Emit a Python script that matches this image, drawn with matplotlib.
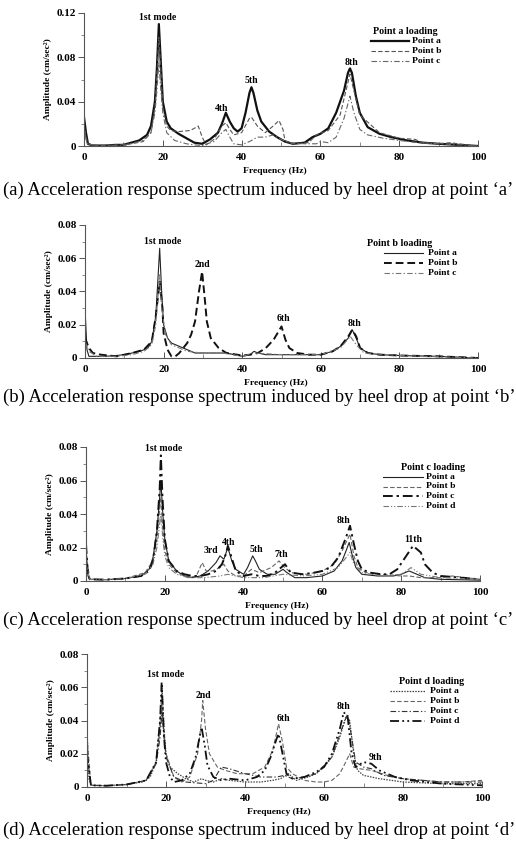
import matplotlib
matplotlib.use("Agg")
import matplotlib.pyplot as plt
from matplotlib.lines import Line2D
from matplotlib.ticker import MultipleLocator, FuncFormatter

plt.rcParams['font.family'] = ['Liberation Serif', 'DejaVu Serif']

W, H = 516, 843

# ---------------- Panel (a): Point a loading ----------------
a_pa_f = [0, 0.5, 1, 2, 5, 8, 10, 12, 14, 16, 17, 18, 18.5, 19, 19.5, 20, 21, 22, 24, 26, 28, 30, 32, 34, 35, 36, 37, 38, 39, 40, 41, 42, 42.5, 43, 44, 45, 47, 49, 51, 53, 56, 58, 60, 62, 64, 66, 67, 67.5, 68, 69, 70, 72, 75, 78, 82, 86, 90, 95, 100]
a_pa_v = [0.026, 0.012, 0.002, 0.0005, 0.0003, 0.001, 0.001, 0.003, 0.005, 0.01, 0.018, 0.04, 0.07, 0.11, 0.075, 0.04, 0.022, 0.016, 0.011, 0.007, 0.003, 0.002, 0.006, 0.012, 0.02, 0.03, 0.022, 0.016, 0.013, 0.016, 0.03, 0.048, 0.053, 0.048, 0.032, 0.022, 0.013, 0.008, 0.004, 0.002, 0.003, 0.008, 0.011, 0.016, 0.03, 0.05, 0.066, 0.07, 0.066, 0.045, 0.03, 0.017, 0.011, 0.008, 0.005, 0.003, 0.002, 0.001, 0.0]
a_pb_f = [0, 0.5, 1, 3, 8, 12, 15, 17, 18, 18.5, 19, 19.5, 20, 21, 22, 24, 27, 29, 30, 31, 33, 35, 36, 37, 38, 40, 42, 42.5, 44, 46, 48, 49.5, 50.5, 51, 53, 57, 59, 62, 65, 66.5, 67.5, 68.5, 70, 75, 80, 84, 86, 90, 93, 95, 100]
a_pb_v = [0.02, 0.008, 0.002, 0.0005, 0.0008, 0.002, 0.004, 0.012, 0.035, 0.065, 0.098, 0.07, 0.035, 0.018, 0.014, 0.013, 0.014, 0.018, 0.008, 0.001, 0.006, 0.018, 0.021, 0.015, 0.01, 0.012, 0.025, 0.026, 0.018, 0.012, 0.018, 0.023, 0.015, 0.005, 0.002, 0.003, 0.01, 0.014, 0.028, 0.05, 0.065, 0.05, 0.028, 0.012, 0.007, 0.006, 0.003, 0.002, 0.003, 0.002, 0.0]
a_pc_f = [0, 0.5, 1, 10, 15, 17, 18, 18.5, 19, 19.5, 20, 21, 23, 26, 28, 30, 33, 35, 36, 37, 38, 40, 42, 44, 46, 48, 50, 52, 56, 59, 60, 62, 64, 66, 67.5, 68.5, 70, 72, 76, 80, 85, 90, 100]
a_pc_v = [0.02, 0.006, 0.001, 0.0005, 0.005, 0.012, 0.03, 0.05, 0.075, 0.05, 0.03, 0.012, 0.005, 0.002, 0.001, 0.0005, 0.004, 0.012, 0.015, 0.008, 0.002, 0.001, 0.004, 0.008, 0.008, 0.01, 0.006, 0.003, 0.002, 0.002, 0.004, 0.003, 0.008, 0.025, 0.045, 0.03, 0.015, 0.01, 0.007, 0.005, 0.003, 0.002, 0.0]

# ---------------- Panel (b): Point b loading ----------------
b_pa_f = [0, 0.5, 1, 3, 5, 8, 10, 12, 14, 16, 17, 18, 18.5, 19, 19.5, 20, 21, 22, 24, 26, 28, 30, 33, 36, 38, 40, 42, 43, 44, 46, 50, 55, 60, 63, 65, 67, 68, 69, 70, 72, 75, 80, 90, 100]
b_pa_v = [0.03, 0.005, 0.001, 0.001, 0.001, 0.0015, 0.002, 0.003, 0.004, 0.006, 0.01, 0.025, 0.045, 0.066, 0.04, 0.02, 0.012, 0.009, 0.007, 0.005, 0.003, 0.003, 0.003, 0.003, 0.002, 0.001, 0.002, 0.004, 0.003, 0.002, 0.002, 0.002, 0.002, 0.004, 0.007, 0.012, 0.017, 0.012, 0.006, 0.003, 0.002, 0.0015, 0.001, 0.0]
b_pb_f = [0, 1, 2, 4, 8, 12, 15, 17, 18, 19, 19.7, 20, 21, 22, 23, 24, 25, 26, 27, 28, 29, 29.8, 30.5, 31, 32, 34, 36, 40, 42, 44, 46, 48, 49, 50, 51, 52, 54, 57, 60, 63, 65, 67, 68, 69, 70, 72, 75, 80, 90, 100]
b_pb_v = [0.012, 0.006, 0.003, 0.002, 0.001, 0.003, 0.005, 0.01, 0.025, 0.046, 0.03, 0.015, 0.005, 0.001, 0.001, 0.003, 0.006, 0.009, 0.014, 0.022, 0.04, 0.052, 0.035, 0.022, 0.012, 0.006, 0.003, 0.0015, 0.002, 0.003, 0.006, 0.011, 0.015, 0.019, 0.011, 0.006, 0.003, 0.002, 0.002, 0.004, 0.007, 0.013, 0.017, 0.013, 0.006, 0.003, 0.002, 0.0015, 0.001, 0.0]
b_pc_f = [0, 1, 3, 8, 12, 15, 17, 18, 18.5, 19, 19.5, 20.5, 22, 24, 26, 30, 35, 40, 43, 50, 60, 65, 67.5, 69, 71, 80, 100]
b_pc_v = [0.01, 0.004, 0.001, 0.001, 0.002, 0.004, 0.008, 0.02, 0.035, 0.05, 0.03, 0.014, 0.008, 0.006, 0.004, 0.003, 0.003, 0.001, 0.003, 0.002, 0.002, 0.006, 0.013, 0.008, 0.003, 0.0015, 0.0]

# ---------------- Panel (c): Point c loading ----------------
c_pa_f = [0, 0.5, 1, 5, 10, 14, 16, 17, 18, 18.7, 19, 19.5, 20, 21, 23, 25, 27, 29, 31, 33, 34, 35, 36, 37, 38, 40, 41, 42.3, 43, 44, 46, 48, 50, 51, 53, 56, 60, 63, 65, 66, 66.8, 67.5, 68.5, 70, 74, 78, 80, 82, 84, 86, 90, 100]
c_pa_v = [0.02, 0.003, 0.001, 0.0008, 0.0015, 0.003, 0.007, 0.014, 0.03, 0.05, 0.06, 0.04, 0.025, 0.012, 0.006, 0.003, 0.002, 0.003, 0.006, 0.011, 0.015, 0.013, 0.02, 0.012, 0.007, 0.004, 0.008, 0.015, 0.012, 0.007, 0.004, 0.004, 0.007, 0.005, 0.002, 0.002, 0.003, 0.006, 0.012, 0.018, 0.023, 0.016, 0.008, 0.004, 0.003, 0.003, 0.004, 0.006, 0.004, 0.002, 0.001, 0.0005]
c_pb_f = [0, 1, 5, 10, 15, 17, 18, 19, 19.5, 20, 21, 23, 26, 28, 29.5, 30.5, 32, 34, 35, 36, 38, 40, 42, 44, 47, 49, 50, 52, 56, 60, 63, 65, 67, 68, 69, 71, 75, 80, 82, 85, 90, 93, 100]
c_pb_v = [0.015, 0.001, 0.0008, 0.0015, 0.005, 0.012, 0.025, 0.05, 0.03, 0.018, 0.01, 0.005, 0.002, 0.003, 0.011, 0.006, 0.006, 0.008, 0.01, 0.006, 0.003, 0.003, 0.007, 0.005, 0.008, 0.012, 0.009, 0.005, 0.004, 0.006, 0.01, 0.018, 0.028, 0.015, 0.008, 0.005, 0.004, 0.003, 0.003, 0.002, 0.002, 0.003, 0.001]
c_pc_f = [0, 0.5, 1, 5, 10, 14, 16, 17, 18, 18.7, 19, 19.4, 20, 21, 23, 25, 27, 29, 31, 33, 34.5, 35.5, 36, 36.7, 38, 40, 42, 44, 46, 48, 50.5, 52, 55, 58, 60, 62, 64, 66, 67, 68, 69, 70, 72, 75, 77, 79, 81, 83, 85, 86, 88, 90, 95, 100]
c_pc_v = [0.022, 0.003, 0.001, 0.0008, 0.0015, 0.003, 0.006, 0.012, 0.03, 0.055, 0.075, 0.05, 0.025, 0.012, 0.006, 0.004, 0.003, 0.003, 0.004, 0.006, 0.01, 0.016, 0.021, 0.016, 0.006, 0.003, 0.004, 0.003, 0.003, 0.005, 0.01, 0.005, 0.004, 0.005, 0.006, 0.008, 0.014, 0.026, 0.033, 0.022, 0.012, 0.007, 0.005, 0.004, 0.004, 0.007, 0.014, 0.021, 0.017, 0.01, 0.005, 0.003, 0.002, 0.001]
c_pd_f = [0, 1, 5, 10, 15, 17, 18, 19, 19.5, 20, 21, 23, 26, 30, 34, 36, 40, 45, 50, 55, 60, 64, 66, 67, 68, 70, 75, 80, 82.5, 85, 90, 100]
c_pd_v = [0.01, 0.001, 0.0008, 0.0015, 0.004, 0.01, 0.02, 0.04, 0.025, 0.015, 0.008, 0.004, 0.002, 0.002, 0.003, 0.004, 0.002, 0.002, 0.004, 0.003, 0.004, 0.008, 0.014, 0.017, 0.01, 0.005, 0.003, 0.004, 0.008, 0.004, 0.002, 0.001]

# ---------------- Panel (d): Point d loading ----------------
d_pa_f = [0, 0.5, 1, 5, 10, 14, 16, 17.5, 18.5, 19, 19.5, 20, 21, 23, 25, 27, 29, 30, 32, 34, 36, 40, 44, 47, 49, 51, 53, 56, 58, 60, 62, 64, 65.5, 66.5, 67.5, 68.5, 70, 74, 80, 90, 100]
d_pa_v = [0.035, 0.005, 0.001, 0.0008, 0.0015, 0.003, 0.006, 0.015, 0.04, 0.06, 0.035, 0.02, 0.012, 0.008, 0.005, 0.003, 0.005, 0.004, 0.003, 0.005, 0.004, 0.003, 0.003, 0.004, 0.005, 0.008, 0.004, 0.006, 0.008, 0.012, 0.018, 0.03, 0.042, 0.04, 0.02, 0.01, 0.007, 0.005, 0.003, 0.002, 0.002]
d_pb_f = [0, 1, 5, 10, 15, 17.5, 18.5, 19, 19.5, 20, 22, 24, 26, 28, 29, 29.3, 30, 31, 33, 35, 38, 42, 45, 47, 48.5, 49.5, 50.5, 52, 55, 58, 60, 62, 64, 65.5, 66.5, 67.5, 69, 72, 76, 80, 85, 90, 95, 100]
d_pb_v = [0.03, 0.001, 0.0008, 0.0015, 0.004, 0.015, 0.035, 0.05, 0.03, 0.02, 0.006, 0.003, 0.006, 0.02, 0.04, 0.052, 0.035, 0.02, 0.012, 0.01, 0.008, 0.008, 0.012, 0.022, 0.038, 0.027, 0.012, 0.008, 0.004, 0.003, 0.003, 0.004, 0.008, 0.015, 0.02, 0.012, 0.011, 0.01, 0.007, 0.005, 0.004, 0.003, 0.003, 0.004]
d_pc_f = [0, 1, 5, 10, 15, 17.5, 18.5, 19, 19.5, 20, 22, 25, 30, 32, 34, 36, 40, 44, 48, 50, 52, 55, 58, 62, 64.5, 66, 67, 68, 70, 72, 75, 80, 90, 100]
d_pc_v = [0.02, 0.001, 0.0008, 0.0015, 0.004, 0.014, 0.03, 0.045, 0.03, 0.018, 0.006, 0.003, 0.002, 0.004, 0.012, 0.011, 0.008, 0.006, 0.006, 0.007, 0.005, 0.006, 0.008, 0.018, 0.035, 0.044, 0.03, 0.015, 0.012, 0.011, 0.007, 0.005, 0.003, 0.003]
d_pd_f = [0, 1, 5, 10, 15, 17.5, 18.5, 18.9, 19.5, 20, 21, 22, 24, 26, 27.5, 28.5, 29, 29.8, 30.5, 32, 34, 36, 40, 43, 45, 46.5, 48, 48.5, 49.5, 50.5, 52, 55, 58, 60, 62, 64, 65, 66, 67, 68, 70, 72, 74, 78, 82, 90, 100]
d_pd_v = [0.02, 0.001, 0.0008, 0.0015, 0.004, 0.015, 0.04, 0.063, 0.03, 0.015, 0.006, 0.003, 0.004, 0.008, 0.018, 0.03, 0.036, 0.025, 0.013, 0.006, 0.004, 0.005, 0.004, 0.006, 0.01, 0.018, 0.029, 0.032, 0.02, 0.008, 0.005, 0.006, 0.009, 0.012, 0.02, 0.035, 0.045, 0.042, 0.02, 0.012, 0.015, 0.014, 0.01, 0.006, 0.004, 0.002, 0.001]

legend_titles = ["Point a loading", "Point b loading", "Point c loading", "Point d loading"]
point_names = ["Point a", "Point b", "Point c", "Point d"]
captions = ["(a) Acceleration response spectrum induced by heel drop at point \u2018a\u2019",
            "(b) Acceleration response spectrum induced by heel drop at point \u2018b\u2019",
            "(c) Acceleration response spectrum induced by heel drop at point \u2018c\u2019",
            "(d) Acceleration response spectrum induced by heel drop at point \u2018d\u2019"]
mode_labels = [
    [("1st mode", 18.8, 0.1155), ("4th", 35.0, 0.034), ("5th", 42.4, 0.0595), ("8th", 68.0, 0.075)],
    [("1st mode", 19.8, 0.070), ("2nd", 30.0, 0.0565), ("6th", 50.4, 0.024), ("8th", 68.7, 0.021)],
    [("1st mode", 19.8, 0.079), ("3rd", 31.7, 0.018), ("4th", 36.3, 0.0227), ("5th", 43.3, 0.019),
     ("7th", 49.5, 0.016), ("8th", 65.3, 0.0364), ("11th", 83.0, 0.025)],
    [("1st mode", 20.0, 0.0674), ("2nd", 29.4, 0.055), ("6th", 49.7, 0.0415), ("8th", 64.9, 0.0487), ("9th", 73.0, 0.0175)],
]

DASH = (0, (4, 2))
DASHDOT = (0, (5, 2, 1.2, 2))
DASHDOTDOT = (0, (5, 1.8, 1, 1.8, 1, 1.8))
DOT = (0, (1.2, 1.0))

panels = [
    dict(box=(84, 478, 13, 146), ymax=0.12, ymaj=0.04, ymin=0.02,
         series=[(a_pa_f, a_pa_v, '-', '#111111', 1.6),
                 (a_pb_f, a_pb_v, DASH, '#555555', 0.8),
                 (a_pc_f, a_pc_v, DASHDOT, '#666666', 0.8)],
         cap_y=190, leg=(371, 409, 412, 405, 32, [41, 51, 61])),
    dict(box=(85, 478, 225, 358), ymax=0.08, ymaj=0.02, ymin=0.01,
         series=[(b_pa_f, b_pa_v, '-', '#222222', 0.8),
                 (b_pb_f, b_pb_v, DASH, '#111111', 1.4),
                 (b_pc_f, b_pc_v, DASHDOT, '#777777', 0.8)],
         cap_y=397, leg=(384, 423, 428, 400, 243, [253, 263, 273])),
    dict(box=(86, 480, 447, 581), ymax=0.08, ymaj=0.02, ymin=0.01,
         series=[(c_pa_f, c_pa_v, '-', '#222222', 0.8),
                 (c_pb_f, c_pb_v, DASH, '#666666', 0.8),
                 (c_pc_f, c_pc_v, DASHDOT, '#111111', 1.4),
                 (c_pd_f, c_pd_v, DASHDOTDOT, '#777777', 0.8)],
         cap_y=620, leg=(383, 423, 426, 433, 468, [477, 486.5, 496, 505.5])),
    dict(box=(87, 482, 654, 787), ymax=0.08, ymaj=0.02, ymin=0.01,
         series=[(d_pa_f, d_pa_v, DOT, '#444444', 0.9),
                 (d_pb_f, d_pb_v, DASH, '#666666', 0.8),
                 (d_pc_f, d_pc_v, DASHDOT, '#333333', 0.8),
                 (d_pd_f, d_pd_v, DASHDOTDOT, '#111111', 1.3)],
         cap_y=830, leg=(390, 425, 430, 432, 681, [691, 701, 711, 721])),
]

fig = plt.figure(figsize=(W / 100, H / 100), dpi=100)
fig.patch.set_facecolor('white')


def fmt(v, pos):
    if abs(v) < 1e-12:
        return "0"
    return ("%.2f" % v)


def fmtx(v, pos):
    return "%d" % round(v)


for i, p in enumerate(panels):
    l, r, t, b = p['box']
    ax = fig.add_axes([l / W, 1 - b / H, (r - l) / W, (b - t) / H])
    for f, v, ls, c, lw in p['series']:
        ax.plot(f, v, linestyle=ls, color=c, lw=lw)
    ax.set_xlim(0, 100)
    ax.set_ylim(0, p['ymax'])
    ax.spines['top'].set_visible(False)
    ax.spines['right'].set_visible(False)
    for s in ('left', 'bottom'):
        ax.spines[s].set_color('#555555')
        ax.spines[s].set_linewidth(0.8)
    ax.xaxis.set_major_locator(MultipleLocator(20))
    ax.xaxis.set_minor_locator(MultipleLocator(10))
    ax.yaxis.set_major_locator(MultipleLocator(p['ymaj']))
    ax.yaxis.set_minor_locator(MultipleLocator(p['ymin']))
    ax.yaxis.set_major_formatter(FuncFormatter(fmt))
    ax.xaxis.set_major_formatter(FuncFormatter(fmtx))
    ax.tick_params(axis='both', which='major', length=4, width=0.7, color='#555555',
                   labelsize=8, pad=2)
    ax.tick_params(axis='x', which='major', pad=5, direction='in')
    ax.tick_params(axis='x', which='minor', length=3, width=0.6, color='#777777', direction='in')
    ax.tick_params(axis='y', which='minor', length=2.5, width=0.6, color='#777777')
    for lab in ax.get_xticklabels() + ax.get_yticklabels():
        lab.set_fontweight('bold')
    ax.set_ylabel("Amplitude (cm/sec\u00b2)", fontsize=6.8, fontweight='bold', labelpad=3)
    ax.set_xlabel("Frequency (Hz)", fontsize=6.8, fontweight='bold', labelpad=0)
    ax.xaxis.set_label_coords(0.485, -0.155)
    for txt, fx, fy in mode_labels[i]:
        ax.text(fx, fy, txt, ha='center', va='center', fontsize=7, fontweight='bold')
    # legend
    x0, x1, xt, tx, ty, ys = p['leg']
    fig.text(tx / W, 1 - ty / H, legend_titles[i], ha='center', va='center',
             fontsize=7.2, fontweight='bold')
    for k, (f, v, ls, c, lw) in enumerate(p['series']):
        yy = 1 - ys[k] / H
        fig.add_artist(Line2D([x0 / W, x1 / W], [yy, yy], linestyle=ls, color=c, lw=lw,
                              transform=fig.transFigure))
        fig.text(xt / W, yy, point_names[k], ha='left', va='center', fontsize=6.8, fontweight='bold')
    fig.text(3 / W, 1 - p['cap_y'] / H, captions[i], ha='left', va='center', fontsize=13.4)

fig.savefig("out.png", dpi=100, facecolor='white')
